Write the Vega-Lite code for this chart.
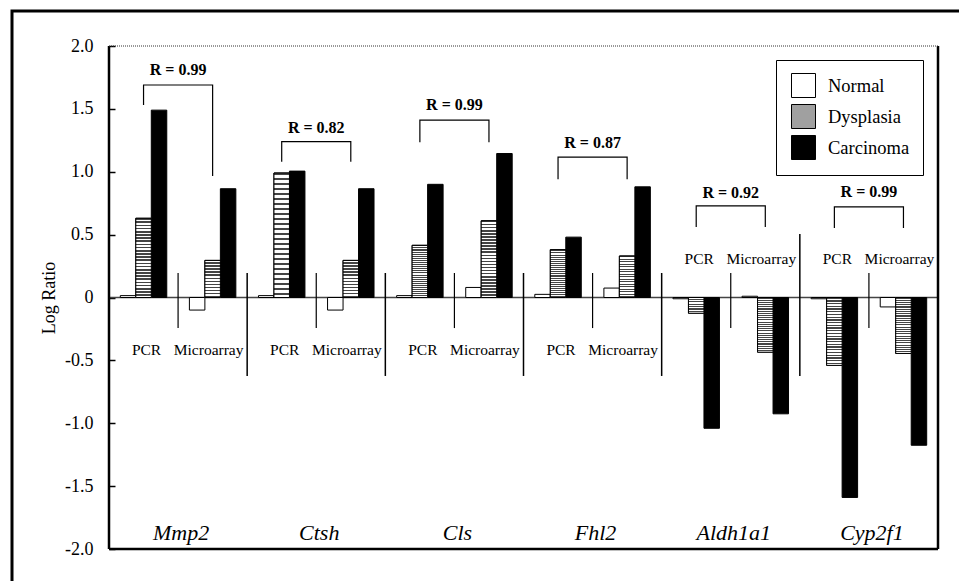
{
  "$schema": "https://vega.github.io/schema/vega-lite/v6.json",
  "width": 960,
  "height": 600,
  "autosize": {"type": "none"},
  "padding": {"left": 12, "top": 11, "right": 0, "bottom": 0},
  "background": "white",
  "config": {"font": "Liberation Serif", "view": {"stroke": "black", "strokeWidth": 3}},
  "datasets": {
    "bars": [
      {"gene": "Mmp2", "method": "PCR", "col": "Mmp2 PCR", "tissue": "Normal", "value": 0.015},
      {"gene": "Mmp2", "method": "PCR", "col": "Mmp2 PCR", "tissue": "Dysplasia", "value": 0.63},
      {"gene": "Mmp2", "method": "PCR", "col": "Mmp2 PCR", "tissue": "Carcinoma", "value": 1.49},
      {"gene": "Mmp2", "method": "Microarray", "col": "Mmp2 Microarray", "tissue": "Normal", "value": -0.1},
      {"gene": "Mmp2", "method": "Microarray", "col": "Mmp2 Microarray", "tissue": "Dysplasia", "value": 0.295},
      {"gene": "Mmp2", "method": "Microarray", "col": "Mmp2 Microarray", "tissue": "Carcinoma", "value": 0.865},
      {"gene": "Ctsh", "method": "PCR", "col": "Ctsh PCR", "tissue": "Normal", "value": 0.015},
      {"gene": "Ctsh", "method": "PCR", "col": "Ctsh PCR", "tissue": "Dysplasia", "value": 0.99},
      {"gene": "Ctsh", "method": "PCR", "col": "Ctsh PCR", "tissue": "Carcinoma", "value": 1.005},
      {"gene": "Ctsh", "method": "Microarray", "col": "Ctsh Microarray", "tissue": "Normal", "value": -0.1},
      {"gene": "Ctsh", "method": "Microarray", "col": "Ctsh Microarray", "tissue": "Dysplasia", "value": 0.295},
      {"gene": "Ctsh", "method": "Microarray", "col": "Ctsh Microarray", "tissue": "Carcinoma", "value": 0.865},
      {"gene": "Cls", "method": "PCR", "col": "Cls PCR", "tissue": "Normal", "value": 0.015},
      {"gene": "Cls", "method": "PCR", "col": "Cls PCR", "tissue": "Dysplasia", "value": 0.415},
      {"gene": "Cls", "method": "PCR", "col": "Cls PCR", "tissue": "Carcinoma", "value": 0.9},
      {"gene": "Cls", "method": "Microarray", "col": "Cls Microarray", "tissue": "Normal", "value": 0.08},
      {"gene": "Cls", "method": "Microarray", "col": "Cls Microarray", "tissue": "Dysplasia", "value": 0.61},
      {"gene": "Cls", "method": "Microarray", "col": "Cls Microarray", "tissue": "Carcinoma", "value": 1.145},
      {"gene": "Fhl2", "method": "PCR", "col": "Fhl2 PCR", "tissue": "Normal", "value": 0.025},
      {"gene": "Fhl2", "method": "PCR", "col": "Fhl2 PCR", "tissue": "Dysplasia", "value": 0.38},
      {"gene": "Fhl2", "method": "PCR", "col": "Fhl2 PCR", "tissue": "Carcinoma", "value": 0.48},
      {"gene": "Fhl2", "method": "Microarray", "col": "Fhl2 Microarray", "tissue": "Normal", "value": 0.075},
      {"gene": "Fhl2", "method": "Microarray", "col": "Fhl2 Microarray", "tissue": "Dysplasia", "value": 0.33},
      {"gene": "Fhl2", "method": "Microarray", "col": "Fhl2 Microarray", "tissue": "Carcinoma", "value": 0.88},
      {"gene": "Aldh1a1", "method": "PCR", "col": "Aldh1a1 PCR", "tissue": "Normal", "value": -0.01},
      {"gene": "Aldh1a1", "method": "PCR", "col": "Aldh1a1 PCR", "tissue": "Dysplasia", "value": -0.125},
      {"gene": "Aldh1a1", "method": "PCR", "col": "Aldh1a1 PCR", "tissue": "Carcinoma", "value": -1.04},
      {"gene": "Aldh1a1", "method": "Microarray", "col": "Aldh1a1 Microarray", "tissue": "Normal", "value": 0.01},
      {"gene": "Aldh1a1", "method": "Microarray", "col": "Aldh1a1 Microarray", "tissue": "Dysplasia", "value": -0.435},
      {"gene": "Aldh1a1", "method": "Microarray", "col": "Aldh1a1 Microarray", "tissue": "Carcinoma", "value": -0.925},
      {"gene": "Cyp2f1", "method": "PCR", "col": "Cyp2f1 PCR", "tissue": "Normal", "value": -0.01},
      {"gene": "Cyp2f1", "method": "PCR", "col": "Cyp2f1 PCR", "tissue": "Dysplasia", "value": -0.54},
      {"gene": "Cyp2f1", "method": "PCR", "col": "Cyp2f1 PCR", "tissue": "Carcinoma", "value": -1.59},
      {"gene": "Cyp2f1", "method": "Microarray", "col": "Cyp2f1 Microarray", "tissue": "Normal", "value": -0.075},
      {"gene": "Cyp2f1", "method": "Microarray", "col": "Cyp2f1 Microarray", "tissue": "Dysplasia", "value": -0.445},
      {"gene": "Cyp2f1", "method": "Microarray", "col": "Cyp2f1 Microarray", "tissue": "Carcinoma", "value": -1.175}
    ],
    "methodLabels": [
      {"col": "Mmp2 PCR", "method": "PCR", "v": -0.42},
      {"col": "Mmp2 Microarray", "method": "Microarray", "v": -0.42},
      {"col": "Ctsh PCR", "method": "PCR", "v": -0.42},
      {"col": "Ctsh Microarray", "method": "Microarray", "v": -0.42},
      {"col": "Cls PCR", "method": "PCR", "v": -0.42},
      {"col": "Cls Microarray", "method": "Microarray", "v": -0.42},
      {"col": "Fhl2 PCR", "method": "PCR", "v": -0.42},
      {"col": "Fhl2 Microarray", "method": "Microarray", "v": -0.42},
      {"col": "Aldh1a1 PCR", "method": "PCR", "v": 0.31},
      {"col": "Aldh1a1 Microarray", "method": "Microarray", "v": 0.31},
      {"col": "Cyp2f1 PCR", "method": "PCR", "v": 0.31},
      {"col": "Cyp2f1 Microarray", "method": "Microarray", "v": 0.31}
    ],
    "genes": [
      {"gene": "Mmp2"},
      {"gene": "Ctsh"},
      {"gene": "Cls"},
      {"gene": "Fhl2"},
      {"gene": "Aldh1a1"},
      {"gene": "Cyp2f1"}
    ],
    "rLabels": [
      {"gene": "Mmp2", "text": "R = 0.99", "v": 1.77},
      {"gene": "Ctsh", "text": "R = 0.82", "v": 1.31},
      {"gene": "Cls", "text": "R = 0.99", "v": 1.49},
      {"gene": "Fhl2", "text": "R = 0.87", "v": 1.19},
      {"gene": "Aldh1a1", "text": "R = 0.92", "v": 0.79},
      {"gene": "Cyp2f1", "text": "R = 0.99", "v": 0.8}
    ],
    "brackets": [
      {"gene": "Mmp2", "col": "Mmp2 PCR", "v": 1.53, "o": 1},
      {"gene": "Mmp2", "col": "Mmp2 PCR", "v": 1.69, "o": 2},
      {"gene": "Mmp2", "col": "Mmp2 Microarray", "v": 1.69, "o": 3},
      {"gene": "Mmp2", "col": "Mmp2 Microarray", "v": 0.966, "o": 4},
      {"gene": "Ctsh", "col": "Ctsh PCR", "v": 1.08, "o": 1},
      {"gene": "Ctsh", "col": "Ctsh PCR", "v": 1.24, "o": 2},
      {"gene": "Ctsh", "col": "Ctsh Microarray", "v": 1.24, "o": 3},
      {"gene": "Ctsh", "col": "Ctsh Microarray", "v": 1.08, "o": 4},
      {"gene": "Cls", "col": "Cls PCR", "v": 1.235, "o": 1},
      {"gene": "Cls", "col": "Cls PCR", "v": 1.41, "o": 2},
      {"gene": "Cls", "col": "Cls Microarray", "v": 1.41, "o": 3},
      {"gene": "Cls", "col": "Cls Microarray", "v": 1.235, "o": 4},
      {"gene": "Fhl2", "col": "Fhl2 PCR", "v": 0.94, "o": 1},
      {"gene": "Fhl2", "col": "Fhl2 PCR", "v": 1.117, "o": 2},
      {"gene": "Fhl2", "col": "Fhl2 Microarray", "v": 1.117, "o": 3},
      {"gene": "Fhl2", "col": "Fhl2 Microarray", "v": 0.94, "o": 4},
      {"gene": "Aldh1a1", "col": "Aldh1a1 PCR", "v": 0.56, "o": 1},
      {"gene": "Aldh1a1", "col": "Aldh1a1 PCR", "v": 0.728, "o": 2},
      {"gene": "Aldh1a1", "col": "Aldh1a1 Microarray", "v": 0.728, "o": 3},
      {"gene": "Aldh1a1", "col": "Aldh1a1 Microarray", "v": 0.56, "o": 4},
      {"gene": "Cyp2f1", "col": "Cyp2f1 PCR", "v": 0.553, "o": 1},
      {"gene": "Cyp2f1", "col": "Cyp2f1 PCR", "v": 0.72, "o": 2},
      {"gene": "Cyp2f1", "col": "Cyp2f1 Microarray", "v": 0.72, "o": 3},
      {"gene": "Cyp2f1", "col": "Cyp2f1 Microarray", "v": 0.553, "o": 4}
    ],
    "innerDividers": [
      {"col": "Mmp2 Microarray", "v": 0.195, "v2": -0.243},
      {"col": "Ctsh Microarray", "v": 0.195, "v2": -0.243},
      {"col": "Cls Microarray", "v": 0.195, "v2": -0.243},
      {"col": "Fhl2 Microarray", "v": 0.195, "v2": -0.243},
      {"col": "Aldh1a1 Microarray", "v": 0.195, "v2": -0.243},
      {"col": "Cyp2f1 Microarray", "v": 0.195, "v2": -0.243}
    ],
    "geneDividers": [
      {"col": "Ctsh PCR", "v": 0.195, "v2": -0.624},
      {"col": "Cls PCR", "v": 0.195, "v2": -0.624},
      {"col": "Fhl2 PCR", "v": 0.195, "v2": -0.624},
      {"col": "Aldh1a1 PCR", "v": 0.195, "v2": -0.624},
      {"col": "Cyp2f1 PCR", "v": 0.505, "v2": -0.624}
    ]
  },
  "resolve": {"scale": {"x": "independent"}, "axis": {"x": "independent", "y": "independent"}},
  "layer": [
    {
      "data": {"values": [{}]},
      "mark": {"type": "rule", "color": "#444444", "strokeWidth": 1.5},
      "encoding": {
        "x": {"datum": 0, "type": "quantitative", "scale": {"domain": [0, 1], "range": [97, 926]}, "axis": null},
        "x2": {"datum": 1},
        "y": {"datum": 0, "type": "quantitative", "axis": null}
      }
    },
    {
      "data": {"name": "bars"},
      "mark": {"type": "bar", "stroke": "black", "strokeWidth": 1},
      "encoding": {
        "x": {"field": "col", "type": "nominal", "scale": {"domain": ["Mmp2 PCR", "Mmp2 Microarray", "Ctsh PCR", "Ctsh Microarray", "Cls PCR", "Cls Microarray", "Fhl2 PCR", "Fhl2 Microarray", "Aldh1a1 PCR", "Aldh1a1 Microarray", "Cyp2f1 PCR", "Cyp2f1 Microarray"], "range": [97, 926], "paddingInner": 0, "paddingOuter": 0}, "axis": null},
        "xOffset": {"field": "tissue", "type": "nominal", "scale": {"domain": ["Normal", "Dysplasia", "Carcinoma"], "paddingInner": 0, "paddingOuter": 0.73}},
        "y": {
          "field": "value", "type": "quantitative",
          "scale": {"domain": [-2, 2], "range": [538, 35], "nice": false, "zero": false},
          "axis": {
            "orient": "left", "offset": -97, "values": [-2, -1.5, -1, -0.5, 0, 0.5, 1, 1.5, 2],
            "domain": false, "grid": false, "tickSize": -6, "tickWidth": 1.5, "tickColor": "black",
            "labelFont": "Liberation Serif", "labelFontSize": 18, "labelColor": "black", "labelPadding": 22,
            "labelExpr": "datum.value == 0 ? '0' : (datum.value < 0 ? '-' + format(-datum.value, '.1f') : format(datum.value, '.1f'))",
            "title": "Log Ratio", "titleFont": "Liberation Serif", "titleFontSize": 18, "titleFontWeight": "normal", "titleColor": "black", "titlePadding": 6
          }
        },
        "y2": {"datum": 0},
        "color": {
          "field": "tissue", "type": "nominal",
          "scale": {"domain": ["Normal", "Dysplasia", "Carcinoma"], "range": ["#ffffff", "#a0a0a0", "#000000"]},
          "legend": {
            "orient": "none", "legendX": 764, "legendY": 49, "title": null,
            "symbolType": "square", "symbolSize": 576, "symbolStrokeColor": "black", "symbolStrokeWidth": 1,
            "labelFont": "Liberation Serif", "labelFontSize": 18.5, "labelColor": "black", "labelOffset": 12,
            "rowPadding": 2, "padding": 13, "symbolOffset": 2, "strokeColor": "black", "fillColor": "white"
          }
        }
      }
    },
    {
      "data": {"name": "bars"},
      "transform": [{"filter": "datum.tissue === 'Dysplasia'"}],
      "mark": {
        "type": "bar", "stroke": "black", "strokeWidth": 1,
        "fill": {
          "gradient": "linear", "x1": 0, "y1": 0, "x2": 0, "y2": 1,
          "stops": [
            {"offset": 0, "color": "#444"}, {"offset": 0.02, "color": "#444"}, {"offset": 0.02, "color": "#fff"}, {"offset": 0.04, "color": "#fff"},
            {"offset": 0.04, "color": "#444"}, {"offset": 0.06, "color": "#444"}, {"offset": 0.06, "color": "#fff"}, {"offset": 0.08, "color": "#fff"},
            {"offset": 0.08, "color": "#444"}, {"offset": 0.10, "color": "#444"}, {"offset": 0.10, "color": "#fff"}, {"offset": 0.12, "color": "#fff"},
            {"offset": 0.12, "color": "#444"}, {"offset": 0.14, "color": "#444"}, {"offset": 0.14, "color": "#fff"}, {"offset": 0.16, "color": "#fff"},
            {"offset": 0.16, "color": "#444"}, {"offset": 0.18, "color": "#444"}, {"offset": 0.18, "color": "#fff"}, {"offset": 0.20, "color": "#fff"},
            {"offset": 0.20, "color": "#444"}, {"offset": 0.22, "color": "#444"}, {"offset": 0.22, "color": "#fff"}, {"offset": 0.24, "color": "#fff"},
            {"offset": 0.24, "color": "#444"}, {"offset": 0.26, "color": "#444"}, {"offset": 0.26, "color": "#fff"}, {"offset": 0.28, "color": "#fff"},
            {"offset": 0.28, "color": "#444"}, {"offset": 0.30, "color": "#444"}, {"offset": 0.30, "color": "#fff"}, {"offset": 0.32, "color": "#fff"},
            {"offset": 0.32, "color": "#444"}, {"offset": 0.34, "color": "#444"}, {"offset": 0.34, "color": "#fff"}, {"offset": 0.36, "color": "#fff"},
            {"offset": 0.36, "color": "#444"}, {"offset": 0.38, "color": "#444"}, {"offset": 0.38, "color": "#fff"}, {"offset": 0.40, "color": "#fff"},
            {"offset": 0.40, "color": "#444"}, {"offset": 0.42, "color": "#444"}, {"offset": 0.42, "color": "#fff"}, {"offset": 0.44, "color": "#fff"},
            {"offset": 0.44, "color": "#444"}, {"offset": 0.46, "color": "#444"}, {"offset": 0.46, "color": "#fff"}, {"offset": 0.48, "color": "#fff"},
            {"offset": 0.48, "color": "#444"}, {"offset": 0.50, "color": "#444"}, {"offset": 0.50, "color": "#fff"}, {"offset": 0.52, "color": "#fff"},
            {"offset": 0.52, "color": "#444"}, {"offset": 0.54, "color": "#444"}, {"offset": 0.54, "color": "#fff"}, {"offset": 0.56, "color": "#fff"},
            {"offset": 0.56, "color": "#444"}, {"offset": 0.58, "color": "#444"}, {"offset": 0.58, "color": "#fff"}, {"offset": 0.60, "color": "#fff"},
            {"offset": 0.60, "color": "#444"}, {"offset": 0.62, "color": "#444"}, {"offset": 0.62, "color": "#fff"}, {"offset": 0.64, "color": "#fff"},
            {"offset": 0.64, "color": "#444"}, {"offset": 0.66, "color": "#444"}, {"offset": 0.66, "color": "#fff"}, {"offset": 0.68, "color": "#fff"},
            {"offset": 0.68, "color": "#444"}, {"offset": 0.70, "color": "#444"}, {"offset": 0.70, "color": "#fff"}, {"offset": 0.72, "color": "#fff"},
            {"offset": 0.72, "color": "#444"}, {"offset": 0.74, "color": "#444"}, {"offset": 0.74, "color": "#fff"}, {"offset": 0.76, "color": "#fff"},
            {"offset": 0.76, "color": "#444"}, {"offset": 0.78, "color": "#444"}, {"offset": 0.78, "color": "#fff"}, {"offset": 0.80, "color": "#fff"},
            {"offset": 0.80, "color": "#444"}, {"offset": 0.82, "color": "#444"}, {"offset": 0.82, "color": "#fff"}, {"offset": 0.84, "color": "#fff"},
            {"offset": 0.84, "color": "#444"}, {"offset": 0.86, "color": "#444"}, {"offset": 0.86, "color": "#fff"}, {"offset": 0.88, "color": "#fff"},
            {"offset": 0.88, "color": "#444"}, {"offset": 0.90, "color": "#444"}, {"offset": 0.90, "color": "#fff"}, {"offset": 0.92, "color": "#fff"},
            {"offset": 0.92, "color": "#444"}, {"offset": 0.94, "color": "#444"}, {"offset": 0.94, "color": "#fff"}, {"offset": 0.96, "color": "#fff"},
            {"offset": 0.96, "color": "#444"}, {"offset": 0.98, "color": "#444"}, {"offset": 0.98, "color": "#fff"}, {"offset": 1, "color": "#fff"}
          ]
        }
      },
      "encoding": {
        "x": {"field": "col", "type": "nominal", "scale": {"domain": ["Mmp2 PCR", "Mmp2 Microarray", "Ctsh PCR", "Ctsh Microarray", "Cls PCR", "Cls Microarray", "Fhl2 PCR", "Fhl2 Microarray", "Aldh1a1 PCR", "Aldh1a1 Microarray", "Cyp2f1 PCR", "Cyp2f1 Microarray"], "range": [97, 926], "paddingInner": 0, "paddingOuter": 0}, "axis": null},
        "xOffset": {"field": "tissue", "type": "nominal", "scale": {"domain": ["Normal", "Dysplasia", "Carcinoma"], "paddingInner": 0, "paddingOuter": 0.73}},
        "y": {"field": "value", "type": "quantitative", "axis": null},
        "y2": {"datum": 0}
      }
    },
    {
      "data": {"name": "innerDividers"},
      "mark": {"type": "rule", "color": "black", "strokeWidth": 1.2},
      "encoding": {
        "x": {"field": "col", "type": "nominal", "bandPosition": 0, "scale": {"domain": ["Mmp2 PCR", "Mmp2 Microarray", "Ctsh PCR", "Ctsh Microarray", "Cls PCR", "Cls Microarray", "Fhl2 PCR", "Fhl2 Microarray", "Aldh1a1 PCR", "Aldh1a1 Microarray", "Cyp2f1 PCR", "Cyp2f1 Microarray"], "range": [97, 926], "paddingInner": 0, "paddingOuter": 0}, "axis": null},
        "y": {"field": "v", "type": "quantitative", "axis": null},
        "y2": {"field": "v2"}
      }
    },
    {
      "data": {"name": "geneDividers"},
      "mark": {"type": "rule", "color": "black", "strokeWidth": 1.5},
      "encoding": {
        "x": {"field": "col", "type": "nominal", "bandPosition": 0, "scale": {"domain": ["Mmp2 PCR", "Mmp2 Microarray", "Ctsh PCR", "Ctsh Microarray", "Cls PCR", "Cls Microarray", "Fhl2 PCR", "Fhl2 Microarray", "Aldh1a1 PCR", "Aldh1a1 Microarray", "Cyp2f1 PCR", "Cyp2f1 Microarray"], "range": [97, 926], "paddingInner": 0, "paddingOuter": 0}, "axis": null},
        "y": {"field": "v", "type": "quantitative", "axis": null},
        "y2": {"field": "v2"}
      }
    },
    {
      "data": {"name": "brackets"},
      "mark": {"type": "line", "color": "black", "strokeWidth": 1.2},
      "encoding": {
        "x": {"field": "col", "type": "nominal", "scale": {"domain": ["Mmp2 PCR", "Mmp2 Microarray", "Ctsh PCR", "Ctsh Microarray", "Cls PCR", "Cls Microarray", "Fhl2 PCR", "Fhl2 Microarray", "Aldh1a1 PCR", "Aldh1a1 Microarray", "Cyp2f1 PCR", "Cyp2f1 Microarray"], "range": [97, 926], "paddingInner": 0, "paddingOuter": 0}, "axis": null},
        "y": {"field": "v", "type": "quantitative", "axis": null},
        "detail": {"field": "gene"},
        "order": {"field": "o", "type": "quantitative"}
      }
    },
    {
      "data": {"name": "rLabels"},
      "mark": {"type": "text", "font": "Liberation Serif", "fontSize": 16, "fontWeight": "bold", "color": "black", "align": "center", "baseline": "alphabetic"},
      "encoding": {
        "x": {"field": "gene", "type": "nominal", "scale": {"domain": ["Mmp2", "Ctsh", "Cls", "Fhl2", "Aldh1a1", "Cyp2f1"], "range": [97, 926], "paddingInner": 0, "paddingOuter": 0}, "axis": null},
        "y": {"field": "v", "type": "quantitative", "axis": null},
        "text": {"field": "text"}
      }
    },
    {
      "data": {"name": "methodLabels"},
      "transform": [{"filter": "datum.method === 'PCR'"}],
      "mark": {"type": "text", "font": "Liberation Serif", "fontSize": 15.5, "color": "black", "align": "center", "baseline": "middle", "dx": 3},
      "encoding": {
        "x": {"field": "col", "type": "nominal", "scale": {"domain": ["Mmp2 PCR", "Mmp2 Microarray", "Ctsh PCR", "Ctsh Microarray", "Cls PCR", "Cls Microarray", "Fhl2 PCR", "Fhl2 Microarray", "Aldh1a1 PCR", "Aldh1a1 Microarray", "Cyp2f1 PCR", "Cyp2f1 Microarray"], "range": [97, 926], "paddingInner": 0, "paddingOuter": 0}, "axis": null},
        "y": {"field": "v", "type": "quantitative", "axis": null},
        "text": {"field": "method"}
      }
    },
    {
      "data": {"name": "methodLabels"},
      "transform": [{"filter": "datum.method === 'Microarray'"}],
      "mark": {"type": "text", "font": "Liberation Serif", "fontSize": 15.5, "color": "black", "align": "center", "baseline": "middle", "dx": -4},
      "encoding": {
        "x": {"field": "col", "type": "nominal", "scale": {"domain": ["Mmp2 PCR", "Mmp2 Microarray", "Ctsh PCR", "Ctsh Microarray", "Cls PCR", "Cls Microarray", "Fhl2 PCR", "Fhl2 Microarray", "Aldh1a1 PCR", "Aldh1a1 Microarray", "Cyp2f1 PCR", "Cyp2f1 Microarray"], "range": [97, 926], "paddingInner": 0, "paddingOuter": 0}, "axis": null},
        "y": {"field": "v", "type": "quantitative", "axis": null},
        "text": {"field": "method"}
      }
    },
    {
      "data": {"name": "genes"},
      "mark": {"type": "text", "font": "Liberation Serif", "fontSize": 22, "fontStyle": "italic", "color": "black", "align": "center", "baseline": "alphabetic", "dx": 3},
      "encoding": {
        "x": {"field": "gene", "type": "nominal", "scale": {"domain": ["Mmp2", "Ctsh", "Cls", "Fhl2", "Aldh1a1", "Cyp2f1"], "range": [97, 926], "paddingInner": 0, "paddingOuter": 0}, "axis": null},
        "y": {"datum": -1.93, "type": "quantitative", "axis": null},
        "text": {"field": "gene"}
      }
    },
    {
      "data": {"values": [{}]},
      "mark": {"type": "rule", "color": "black", "strokeWidth": 2.5},
      "encoding": {
        "x": {"datum": 0, "type": "quantitative", "scale": {"domain": [0, 1], "range": [97, 926]}, "axis": null},
        "y": {"datum": -2, "type": "quantitative", "axis": null},
        "y2": {"datum": 2}
      }
    },
    {
      "data": {"values": [{}]},
      "mark": {"type": "rule", "color": "black", "strokeWidth": 2.5},
      "encoding": {
        "x": {"datum": 1, "type": "quantitative", "scale": {"domain": [0, 1], "range": [97, 926]}, "axis": null},
        "y": {"datum": -2, "type": "quantitative", "axis": null},
        "y2": {"datum": 2}
      }
    },
    {
      "data": {"values": [{}]},
      "mark": {"type": "rule", "color": "black", "strokeWidth": 2.5},
      "encoding": {
        "x": {"datum": 0, "type": "quantitative", "scale": {"domain": [0, 1], "range": [97, 926]}, "axis": null},
        "x2": {"datum": 1},
        "y": {"datum": -2, "type": "quantitative", "axis": null}
      }
    },
    {
      "data": {"values": [{}]},
      "mark": {"type": "rule", "color": "#333333", "strokeWidth": 1, "strokeDash": [1, 1]},
      "encoding": {
        "x": {"datum": 0, "type": "quantitative", "scale": {"domain": [0, 1], "range": [97, 926]}, "axis": null},
        "x2": {"datum": 1},
        "y": {"datum": 2, "type": "quantitative", "axis": null}
      }
    }
  ]
}
